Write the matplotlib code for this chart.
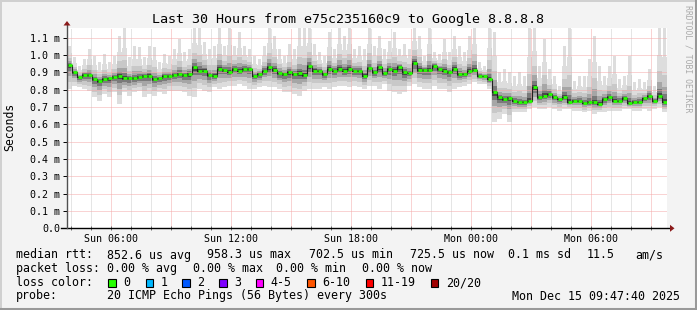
import datetime as dt
import numpy as np
import matplotlib
matplotlib.use("Agg")
import matplotlib.pyplot as plt
import matplotlib.dates as mdates
from matplotlib.patches import Rectangle, Polygon
from matplotlib.lines import Line2D
from matplotlib.ticker import FixedLocator, FuncFormatter

W, H = 697, 310
MONO = "DejaVu Sans Mono"

# 120 samples of 15 min, last 30 hours up to Mon Dec 15 09:47:40 2025
end_time = dt.datetime(2025, 12, 15, 9, 47, 40)
start_time = end_time - dt.timedelta(hours=30)
step_min = 15

# median rtt (ms)
median_ms = [
    0.942, 0.900, 0.871, 0.885, 0.885, 0.862, 0.852, 0.862, 0.865, 0.871,
    0.881, 0.865, 0.865, 0.867, 0.871, 0.881, 0.881, 0.862, 0.865, 0.877,
    0.877, 0.885, 0.890, 0.885, 0.890, 0.929, 0.910, 0.910, 0.885, 0.881,
    0.920, 0.915, 0.904, 0.920, 0.910, 0.920, 0.920, 0.881, 0.890, 0.910,
    0.929, 0.915, 0.894, 0.890, 0.900, 0.890, 0.894, 0.885, 0.935, 0.910,
    0.910, 0.890, 0.920, 0.910, 0.920, 0.910, 0.920, 0.910, 0.910, 0.881,
    0.923, 0.900, 0.929, 0.894, 0.920, 0.910, 0.929, 0.900, 0.896, 0.954,
    0.915, 0.915, 0.915, 0.938, 0.920, 0.910, 0.904, 0.920, 0.890, 0.890,
    0.910, 0.915, 0.881, 0.877, 0.862, 0.785, 0.756, 0.746, 0.750, 0.737,
    0.727, 0.727, 0.737, 0.813, 0.756, 0.765, 0.775, 0.756, 0.746, 0.756,
    0.727, 0.737, 0.737, 0.723, 0.727, 0.727, 0.717, 0.746, 0.756, 0.737,
    0.737, 0.750, 0.723, 0.731, 0.731, 0.750, 0.762, 0.737, 0.762, 0.730,
]

# slowest ping of each sample (ms)
rtt_max_ms = [
    1.054, 0.987, 0.938, 0.977, 1.035, 0.996, 0.958, 1.006, 0.958, 0.996,
    1.112, 1.160, 0.987, 1.054, 1.044, 0.987, 1.054, 1.044, 0.958, 1.006,
    0.996, 1.035, 1.092, 1.015, 1.035, 1.160, 1.160, 1.073, 1.035, 1.054,
    1.160, 1.054, 1.160, 1.054, 1.131, 1.054, 1.035, 0.996, 0.977, 1.054,
    1.160, 1.112, 1.035, 0.996, 1.063, 1.035, 1.160, 1.160, 1.160, 1.063,
    1.015, 0.996, 1.131, 1.035, 1.160, 1.112, 1.160, 1.035, 1.054, 1.035,
    1.160, 1.054, 1.112, 1.035, 1.083, 1.131, 1.035, 1.063, 1.035, 1.160,
    1.112, 0.996, 1.160, 1.015, 1.006, 1.092, 1.015, 1.112, 1.054, 1.015,
    1.112, 1.160, 0.958, 0.938, 1.160, 1.131, 0.900, 0.919, 0.900, 0.881,
    0.900, 0.881, 1.160, 1.160, 0.938, 1.092, 0.919, 0.881, 0.823, 1.054,
    1.160, 0.852, 0.881, 0.881, 0.977, 1.112, 0.938, 0.881, 0.938, 0.996,
    0.862, 0.881, 0.996, 0.842, 0.862, 0.842, 0.919, 0.823, 1.160, 1.160,
]

# fastest ping of each sample (ms)
rtt_min_ms = [
    0.804, 0.823, 0.813, 0.804, 0.794, 0.756, 0.737, 0.775, 0.756, 0.785,
    0.717, 0.785, 0.765, 0.785, 0.794, 0.756, 0.775, 0.765, 0.785, 0.775,
    0.794, 0.794, 0.794, 0.785, 0.765, 0.756, 0.804, 0.794, 0.785, 0.813,
    0.804, 0.813, 0.823, 0.823, 0.833, 0.823, 0.804, 0.804, 0.813, 0.823,
    0.813, 0.813, 0.804, 0.785, 0.785, 0.775, 0.765, 0.794, 0.804, 0.804,
    0.804, 0.813, 0.804, 0.813, 0.823, 0.823, 0.813, 0.823, 0.813, 0.804,
    0.823, 0.823, 0.804, 0.833, 0.794, 0.785, 0.775, 0.785, 0.823, 0.833,
    0.813, 0.804, 0.804, 0.823, 0.804, 0.804, 0.785, 0.804, 0.813, 0.823,
    0.833, 0.842, 0.833, 0.833, 0.804, 0.612, 0.631, 0.660, 0.612, 0.669,
    0.669, 0.669, 0.688, 0.698, 0.688, 0.688, 0.698, 0.688, 0.679, 0.688,
    0.688, 0.679, 0.679, 0.669, 0.679, 0.660, 0.669, 0.669, 0.679, 0.679,
    0.679, 0.688, 0.688, 0.679, 0.679, 0.688, 0.679, 0.688, 0.698, 0.669,
]

y_ticks = [0.0, 0.1, 0.2, 0.3, 0.4, 0.5, 0.6, 0.7, 0.8, 0.9, 1.0, 1.1]

loss_labels = ["0", "1", "2", "3", "4-5", "6-10", "11-19", "20/20"]
loss_colors = ["#26ff00", "#00b8ff", "#0059ff", "#7e00ff",
               "#ff00ff", "#ff5500", "#ff0000", "#a00000"]

stats_rtt = [("median rtt:", 16), ("852.6 us avg", 107), ("958.3 us max", 207),
             ("702.5 us min", 309), ("725.5 us now", 410), ("0.1 ms sd", 508),
             ("11.5", 587), ("am/s", 635)]
stats_loss = [("packet loss:", 16), ("0.00 % avg", 107), ("0.00 % max", 193),
              ("0.00 % min", 276), ("0.00 % now", 362)]


def fx(x):
    return x / W


def fy(y):
    return 1 - y / H


median = np.array(median_ms)
rtt_max = np.array(rtt_max_ms)
rtt_min = np.array(rtt_min_ms)
n = len(median)
t0 = mdates.date2num(start_time)
dstep = step_min / (24 * 60)
edges = t0 + dstep * np.arange(n + 1)
mids = edges[:-1] + dstep / 2

fig = plt.figure(figsize=(W / 100, H / 100), dpi=100, facecolor="#f3f3f3")
ax = fig.add_axes([fx(67), fy(228.3), 600 / W, 200.6 / H])
ax.set_facecolor("white")

# single slow pings show up as thin light spikes
ax.bar(mids, rtt_max - median, bottom=median, width=dstep * 0.5,
       color="#dddddd", lw=0, zorder=1)

# smoke: lighter shades for the outer pings, darker towards the median
smoke = [(0.6, 1.0, "#dddddd"), (0.36, 0.7, "#c8c8c8"), (0.2, 0.46, "#a6a6a6"),
         (0.1, 0.27, "#7a7a7a"), (0.04, 0.12, "#484848")]
for up, lo, col in smoke:
    top = median + (rtt_max - median) * up
    bot = median - (median - rtt_min) * lo
    ax.fill_between(edges, np.append(bot, bot[-1]), np.append(top, top[-1]),
                    step="post", color=col, lw=0, zorder=1)

ax.step(edges, np.append(median, median[-1]), where="post",
        color="#202020", lw=0.8, zorder=4)
ax.hlines(median, edges[:-1] + dstep * 0.1, edges[1:] - dstep * 0.1,
          color=loss_colors[0], lw=2.0, zorder=5)

ax.set_xlim(t0, edges[-1])
ax.set_ylim(0, 1.157)
for s in ax.spines.values():
    s.set_visible(False)

# grid
ax.xaxis.set_major_locator(mdates.HourLocator(byhour=range(0, 24, 3)))
ax.xaxis.set_minor_locator(mdates.HourLocator())


def xfmt(x, pos):
    d = mdates.num2date(x)
    return d.strftime("%a %H:%M") if d.hour % 6 == 0 else ""


ax.xaxis.set_major_formatter(FuncFormatter(xfmt))
ax.yaxis.set_major_locator(FixedLocator(y_ticks))
ax.yaxis.set_major_formatter(FuncFormatter(
    lambda v, pos: "0.0" if abs(v) < 1e-9 else f"{v:.1f} m"))

ax.grid(which="minor", axis="x", color="#cccccc", lw=0.72, ls=(0, (1, 1)), zorder=3)
ax.grid(which="major", axis="both", color="#f5a8a8", lw=0.72, ls=(0, (1, 1)), zorder=3)
ax.set_axisbelow(False)

ax.tick_params(axis="y", length=3, width=0.7, direction="out", pad=2,
               labelsize=7.2, colors="black")
ax.tick_params(axis="x", which="both", length=2.5, width=0.6, direction="inout",
               pad=3, labelsize=7.2, color="#555555")
for lab in ax.get_xticklabels() + ax.get_yticklabels():
    lab.set_fontfamily(MONO)

# axis lines with arrows
ax.plot([-6 / 600, 603 / 600], [0, 0], transform=ax.transAxes, color="black",
        lw=1.0, clip_on=False, zorder=6)
ax.plot([0, 0], [0, 1.02], transform=ax.transAxes, color="#505050",
        lw=1.0, clip_on=False, zorder=6)
fig.add_artist(Polygon([(fx(670), fy(224.8)), (fx(670), fy(231.8)), (fx(674.5), fy(228.3))],
                       closed=True, transform=fig.transFigure, color="#8b1a1a", lw=0))
fig.add_artist(Polygon([(fx(63.5), fy(25.5)), (fx(70.5), fy(25.5)), (fx(67), fy(21))],
                       closed=True, transform=fig.transFigure, color="#8b1a1a", lw=0))

# texts
fig.text(fx(348), fy(19), "Last 30 Hours from e75c235160c9 to Google 8.8.8.8",
         family=MONO, fontsize=9.6, ha="center", va="center")
fig.text(fx(10), fy(127), "Seconds", family=MONO, fontsize=8.3, rotation=90,
         ha="center", va="center")
fig.text(fx(688), fy(59), "RRDTOOL / TOBI OETIKER", family=MONO, fontsize=5.9,
         rotation=270, ha="center", va="center", color="#aaaaaa")

for txt, x in stats_rtt:
    fig.text(fx(x), fy(255), txt, family=MONO, fontsize=8.35, va="center")
for txt, x in stats_loss:
    fig.text(fx(x), fy(268.5), txt, family=MONO, fontsize=8.35, va="center")

fig.text(fx(16), fy(282.5), "loss color:", family=MONO, fontsize=8.35, va="center")
box_x = [108.3, 145.7, 182.3, 219, 255.7, 307.3, 365.7, 430.7]
for bx, lab, col in zip(box_x, loss_labels, loss_colors):
    fig.add_artist(Rectangle((fx(bx), fy(286.7)), 7.5 / W, 7.5 / H,
                             transform=fig.transFigure, facecolor=col,
                             edgecolor="black", lw=0.8))
    fig.text(fx(bx + 15), fy(282.5), lab, family=MONO, fontsize=8.35, va="center")

fig.text(fx(16), fy(296), "probe:", family=MONO, fontsize=8.35, va="center")
fig.text(fx(107), fy(296), "20 ICMP Echo Pings (56 Bytes) every 300s",
         family=MONO, fontsize=8.35, va="center")
fig.text(fx(680), fy(296), end_time.strftime("%a %b %d %H:%M:%S %Y"),
         family=MONO, fontsize=8.35, va="center", ha="right")

# 3d frame
fig.add_artist(Line2D([0, 1], [fy(0.5), fy(0.5)], transform=fig.transFigure, color="#d0d0d0", lw=1.4))
fig.add_artist(Line2D([fx(0.5), fx(0.5)], [0, 1], transform=fig.transFigure, color="#d0d0d0", lw=1.4))
fig.add_artist(Line2D([0, 1], [fy(308.5), fy(308.5)], transform=fig.transFigure, color="#999999", lw=2.2))
fig.add_artist(Line2D([fx(695.5), fx(695.5)], [0, 1], transform=fig.transFigure, color="#999999", lw=2.2))

fig.savefig("out.png", dpi=100, facecolor=fig.get_facecolor())
